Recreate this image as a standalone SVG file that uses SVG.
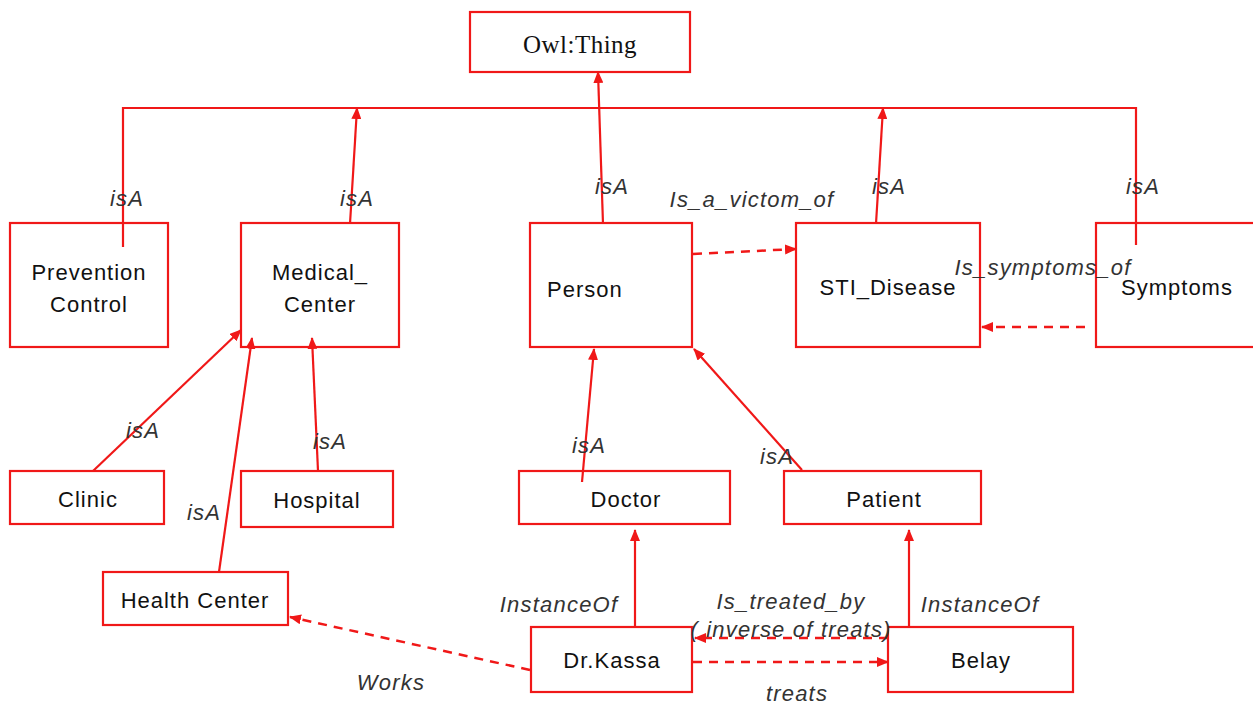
<svg xmlns="http://www.w3.org/2000/svg" width="1253" height="706" viewBox="0 0 1253 706">
  <style>
    .box { fill: #ffffff; stroke: #f01818; stroke-width: 2.2; }
    .lbl { font-family: "Liberation Sans", Arial, sans-serif; font-size: 22px; fill: #111; text-anchor: middle; letter-spacing: 1px; }
    .root { font-family: "Liberation Serif", "Times New Roman", serif; font-size: 25px; fill: #111; text-anchor: middle; letter-spacing: 0.5px; }
    .rel { font-family: "Liberation Sans", Arial, sans-serif; font-size: 22px; font-style: italic; fill: #333; text-anchor: middle; letter-spacing: 1.2px; }
    .ln { fill: none; stroke: #f01818; stroke-width: 2.2; }
    .dash { fill: none; stroke: #f01818; stroke-width: 2.5; stroke-dasharray: 9 7; }
  </style>
  <defs>
    <marker id="head" markerUnits="userSpaceOnUse" markerWidth="12" markerHeight="10" refX="11" refY="5" orient="auto">
      <path d="M0,0 L12,5 L0,10 z" fill="#f01818"/>
    </marker>
  </defs>

  <rect width="1253" height="706" fill="#ffffff"/>

  <!-- nodes -->
  <g id="owl-thing">
    <rect class="box" x="470" y="12" width="220" height="60"/>
    <text class="root" x="580" y="53">Owl:Thing</text>
  </g>
  <g id="prevention-control">
    <rect class="box" x="10" y="223" width="158" height="124"/>
    <text class="lbl" x="89" y="280">Prevention</text>
    <text class="lbl" x="89" y="312">Control</text>
  </g>
  <g id="medical-center">
    <rect class="box" x="241" y="223" width="158" height="124"/>
    <text class="lbl" x="320" y="280">Medical_</text>
    <text class="lbl" x="320" y="312">Center</text>
  </g>
  <g id="person">
    <rect class="box" x="530" y="223" width="162" height="124"/>
    <text class="lbl" x="547" y="297" style="text-anchor:start">Person</text>
  </g>
  <g id="sti-disease">
    <rect class="box" x="796" y="223" width="184" height="124"/>
    <text class="lbl" x="888" y="295">STI_Disease</text>
  </g>
  <g id="symptoms">
    <rect class="box" x="1096" y="223" width="160" height="124"/>
    <text class="lbl" x="1177" y="295">Symptoms</text>
  </g>
  <g id="clinic">
    <rect class="box" x="10" y="471" width="154" height="53"/>
    <text class="lbl" x="88" y="507">Clinic</text>
  </g>
  <g id="hospital">
    <rect class="box" x="241" y="471" width="152" height="56"/>
    <text class="lbl" x="317" y="508">Hospital</text>
  </g>
  <g id="health-center">
    <rect class="box" x="103" y="572" width="185" height="53"/>
    <text class="lbl" x="195" y="608">Health Center</text>
  </g>
  <g id="doctor">
    <rect class="box" x="519" y="471" width="211" height="53"/>
    <text class="lbl" x="626" y="507">Doctor</text>
  </g>
  <g id="patient">
    <rect class="box" x="784" y="471" width="197" height="53"/>
    <text class="lbl" x="884" y="507">Patient</text>
  </g>
  <g id="dr-kassa">
    <rect class="box" x="531" y="627" width="161" height="65"/>
    <text class="lbl" x="612" y="668">Dr.Kassa</text>
  </g>
  <g id="belay">
    <rect class="box" x="888" y="627" width="185" height="65"/>
    <text class="lbl" x="981" y="668">Belay</text>
  </g>

  <!-- connectors, drawn over the boxes so stubs reaching inside stay visible -->
  <g id="connectors">
    <!-- shared isA bar under the root -->
    <polyline class="ln" points="123,247 123,108 1136,108 1136,245"/>
    <line class="ln" x1="350" y1="224" x2="357" y2="108" marker-end="url(#head)"/>
    <line class="ln" x1="876" y1="224" x2="883" y2="108" marker-end="url(#head)"/>
    <line class="ln" x1="603" y1="224" x2="598" y2="72" marker-end="url(#head)"/>

    <!-- subclasses of Medical_Center -->
    <line class="ln" x1="93" y1="471" x2="241" y2="330" marker-end="url(#head)"/>
    <line class="ln" x1="219" y1="572" x2="252" y2="338" marker-end="url(#head)"/>
    <line class="ln" x1="318" y1="471" x2="312" y2="338" marker-end="url(#head)"/>

    <!-- subclasses of Person -->
    <line class="ln" x1="582" y1="482" x2="594" y2="349" marker-end="url(#head)"/>
    <line class="ln" x1="802" y1="470" x2="694" y2="349" marker-end="url(#head)"/>

    <!-- instances -->
    <line class="ln" x1="635" y1="627" x2="635" y2="530" marker-end="url(#head)"/>
    <line class="ln" x1="909" y1="627" x2="909" y2="530" marker-end="url(#head)"/>

    <!-- object properties -->
    <line class="dash" x1="693" y1="254" x2="796" y2="249" marker-end="url(#head)"/>
    <line class="dash" x1="1085" y1="327" x2="982" y2="327" marker-end="url(#head)"/>
    <line class="dash" x1="530" y1="670" x2="290" y2="617" marker-end="url(#head)"/>
    <line class="dash" x1="693" y1="662" x2="888" y2="662" marker-end="url(#head)"/>
    <line class="dash" x1="888" y1="638" x2="695" y2="638" marker-end="url(#head)"/>
  </g>

  <!-- relation labels -->
  <g id="labels">
    <text class="rel" x="127" y="206">isA</text>
    <text class="rel" x="357" y="206">isA</text>
    <text class="rel" x="612" y="194">isA</text>
    <text class="rel" x="889" y="194">isA</text>
    <text class="rel" x="1143" y="194">isA</text>
    <text class="rel" x="752" y="207">Is_a_victom_of</text>
    <text class="rel" x="1043" y="275">Is_symptoms_of</text>
    <text class="rel" x="143" y="438">isA</text>
    <text class="rel" x="330" y="449">isA</text>
    <text class="rel" x="204" y="520">isA</text>
    <text class="rel" x="589" y="453">isA</text>
    <text class="rel" x="777" y="464">isA</text>
    <text class="rel" x="559" y="612">InstanceOf</text>
    <text class="rel" x="980" y="612">InstanceOf</text>
    <text class="rel" x="791" y="609">Is_treated_by</text>
    <text class="rel" x="791" y="637">( inverse of treats)</text>
    <text class="rel" x="391" y="690">Works</text>
    <text class="rel" x="797" y="701">treats</text>
  </g>
</svg>
